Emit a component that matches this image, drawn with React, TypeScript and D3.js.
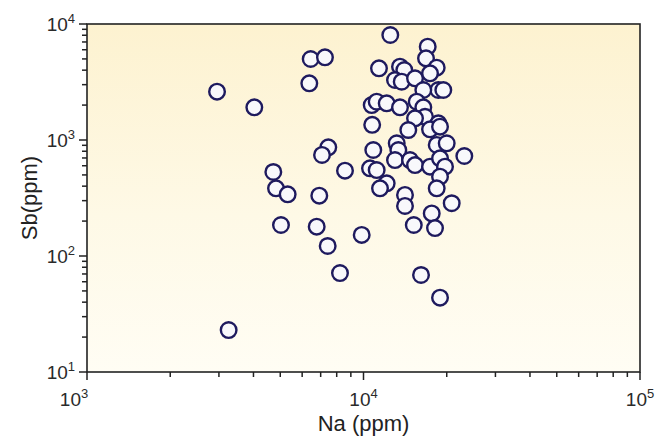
import * as d3 from "d3"

// Na (ppm) and Sb (ppm)
const naValues = [
    2953, 4028, 3253, 6442, 7255, 6368, 7459, 7079, 4719, 4826, 5318, 6920, 8572, 5030, 6772, 7421, 8222, 9851,
    12500, 17070, 16829, 18397, 11376, 13552, 14047, 12999, 13746, 15358, 17400, 18645, 19437, 16457,
    10707, 11160, 12131, 13552, 15574, 16457, 16690, 15358, 18645, 10750, 14521, 17400, 18912,
    13186, 13364, 18397, 19995, 10849, 12999, 14730, 15358, 17400, 18912, 19715, 23154,
    10556, 11160, 12131, 11473, 14128, 14128, 18912, 18397, 20845, 17650, 15200, 18140, 16144, 18912
]
const sbValues = [
    2609, 1913, 23.0, 4993, 5164, 3081, 865, 743, 530, 383, 340, 331, 544, 185, 179, 122, 71.3, 152,
    8039, 6373, 5062, 4200, 4150, 4283, 4012, 3290, 3180, 3402, 3758, 2698, 2698, 2698,
    2002, 2138, 2071, 1913, 2138, 1913, 1586, 1538, 1393, 1351, 1219, 1236, 1302,
    937, 820, 906, 937, 820, 672, 672, 608, 589, 695, 589, 728,
    570, 551, 423, 383, 336, 270, 483, 383, 285, 233, 185, 174, 68.6, 43.7
]

const xDecades = [3, 4, 5]
const yDecades = [1, 2, 3, 4]

const width = 658
const height = 437
const margin = { top: 24, right: 18, bottom: 65, left: 87 }

export default function App() {
    const innerW = width - margin.left - margin.right
    const innerH = height - margin.top - margin.bottom

    const x = d3.scaleLog().domain([1e3, 1e5]).range([0, innerW])
    const y = d3.scaleLog().domain([1e1, 1e4]).range([innerH, 0])

    const xMinor: number[] = []
    for (let e = 3; e < 5; e++) for (let m = 2; m < 10; m++) xMinor.push(m * Math.pow(10, e))
    const yMinor: number[] = []
    for (let e = 1; e < 4; e++) for (let m = 2; m < 10; m++) yMinor.push(m * Math.pow(10, e))

    const points = naValues.map((na, i) => ({ na, sb: sbValues[i] }))
    const font = "'Liberation Sans', Arial, sans-serif"
    const axisColor = "#222"

    return (
        <div style={{ position: "fixed", left: 0, top: 0 }}>
            <svg width={width} height={height} style={{ display: "block", background: "#fff" }}>
                <defs>
                    <linearGradient id="bg" x1="0" y1="0" x2="0" y2="1">
                        <stop offset="0%" stopColor="#fdf2d0" />
                        <stop offset="55%" stopColor="#fef9e6" />
                        <stop offset="100%" stopColor="#fffdf4" />
                    </linearGradient>
                </defs>
                <g transform={`translate(${margin.left},${margin.top})`}>
                    <rect x={0} y={0} width={innerW} height={innerH} fill="url(#bg)" />

                    {points.map((d, i) => (
                        <circle
                            key={i}
                            cx={x(d.na)}
                            cy={y(d.sb)}
                            r={7.8}
                            fill="#f8f8fb"
                            stroke="#1e1a5e"
                            strokeWidth={2.4}
                        />
                    ))}

                    <rect x={0} y={0} width={innerW} height={innerH} fill="none" stroke={axisColor} strokeWidth={1.6} />

                    {/* x ticks */}
                    {xMinor.map((v, i) => (
                        <line key={"xm" + i} x1={x(v)} x2={x(v)} y1={innerH} y2={innerH + 5} stroke={axisColor} strokeWidth={1.5} />
                    ))}
                    {xDecades.map((e, i) => (
                        <g key={"xM" + e} transform={`translate(${x(Math.pow(10, e))},${innerH})`}>
                            <line y1={0} y2={8} stroke={axisColor} strokeWidth={1.5} />
                            <text
                                x={i === 0 ? -13 : 0}
                                y={34}
                                textAnchor="middle"
                                fontFamily={font}
                                fontSize={19}
                                fill="#2a2a2a"
                            >
                                10<tspan dy={-8} fontSize={13}>{e}</tspan>
                            </text>
                        </g>
                    ))}

                    {/* y ticks */}
                    {yMinor.map((v, i) => (
                        <line key={"ym" + i} x1={-5} x2={0} y1={y(v)} y2={y(v)} stroke={axisColor} strokeWidth={1.5} />
                    ))}
                    {yDecades.map(e => (
                        <g key={"yM" + e} transform={`translate(0,${y(Math.pow(10, e))})`}>
                            <line x1={-8} x2={0} stroke={axisColor} strokeWidth={1.5} />
                            <text x={-12} y={7} textAnchor="end" fontFamily={font} fontSize={19} fill="#2a2a2a">
                                10<tspan dy={-8} fontSize={13}>{e}</tspan>
                            </text>
                        </g>
                    ))}

                    <text
                        x={innerW / 2}
                        y={innerH + 59}
                        textAnchor="middle"
                        fontFamily={font}
                        fontSize={22}
                        fill="#222"
                    >
                        Na (ppm)
                    </text>
                    <text
                        transform="rotate(-90)"
                        x={-innerH / 2}
                        y={-50}
                        textAnchor="middle"
                        fontFamily={font}
                        fontSize={22}
                        fill="#222"
                    >
                        Sb(ppm)
                    </text>
                </g>
            </svg>
        </div>
    )
}
